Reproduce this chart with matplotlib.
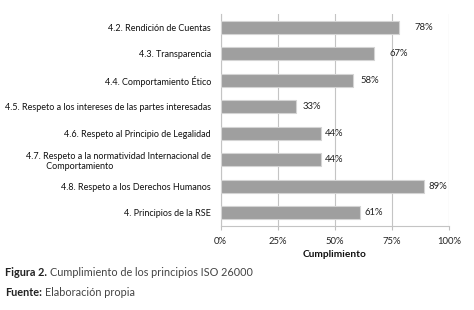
import matplotlib
matplotlib.use("Agg")
import matplotlib.pyplot as plt
from matplotlib.ticker import FuncFormatter

plt.rcParams['font.family'] = ['Lato', 'DejaVu Sans']

categories = [
    "4.2. Rendición de Cuentas",
    "4.3. Transparencia",
    "4.4. Comportamiento Ético",
    "4.5. Respeto a los intereses de las partes interesadas",
    "4.6. Respeto al Principio de Legalidad",
    "4.7. Respeto a la normatividad Internacional de\n         Comportamiento",
    "4.8. Respeto a los Derechos Humanos",
    "4. Principios de la RSE",
]
values = [78, 67, 58, 33, 44, 44, 89, 61]
xticks = [0, 25, 50, 75, 100]
label_pad = [11.5, 11.5, 5, 5, 3, 3, 3.6, 3.6]  # points

fig = plt.figure(figsize=(4.74, 3.10), dpi=100)
ax = fig.add_axes([0.4656, 0.271, 0.4815, 0.684])

ypos = list(range(len(categories)))
bars = ax.barh(ypos, values, height=0.5, color='#9f9f9f', edgecolor='#d4d4d4',
               linewidth=0.8, zorder=3)

for b, v, p in zip(bars, values, label_pad):
    ax.annotate(f"{v}%", (b.get_width(), b.get_y() + b.get_height() / 2),
                xytext=(p, 0), textcoords='offset points', ha='left', va='center',
                fontsize=6.8, color='#222222')

ax.set_xlim(0, 100)
ax.set_ylim(len(categories) - 0.5, -0.5)
ax.set_xticks(xticks)
ax.xaxis.set_major_formatter(FuncFormatter(lambda x, _: f"{int(x)}%"))
ax.set_yticks(ypos)
ax.set_yticklabels(categories, fontsize=6.5, color='#111111', multialignment='left')
ax.tick_params(axis='y', length=0, pad=7)
ax.tick_params(axis='x', length=3, color='#bfbfbf', labelsize=6.8, labelcolor='#222222', pad=5)

ax.grid(axis='x', color='#c4c4c4', linewidth=0.8, zorder=0)
for s in ['top', 'right']:
    ax.spines[s].set_visible(False)
ax.spines['left'].set_color('#c4c4c4')
ax.spines['bottom'].set_color('#c4c4c4')
ax.spines['left'].set_linewidth(0.8)
ax.spines['bottom'].set_linewidth(0.8)

ax.set_xlabel("Cumplimiento", fontsize=7.3, fontweight='bold', labelpad=3, color='#111111')

t1 = fig.text(0.011, 1 - 273 / 310, "Figura 2.", fontsize=7.8, fontweight='bold',
              color='#222222', va='center')
fig.canvas.draw()
r = fig.canvas.get_renderer()
fig.text(t1.get_window_extent(r).x1 / fig.bbox.width + 0.006, 1 - 273 / 310,
         "Cumplimiento de los principios ISO 26000", fontsize=7.8,
         color='#444444', va='center')
t2 = fig.text(0.011, 1 - 292 / 310, "Fuente:", fontsize=7.8, fontweight='bold',
              color='#222222', va='center')
fig.canvas.draw()
fig.text(t2.get_window_extent(r).x1 / fig.bbox.width + 0.006, 1 - 292 / 310,
         "Elaboración propia", fontsize=7.8, color='#444444', va='center')

fig.savefig("out.png", dpi=100)
